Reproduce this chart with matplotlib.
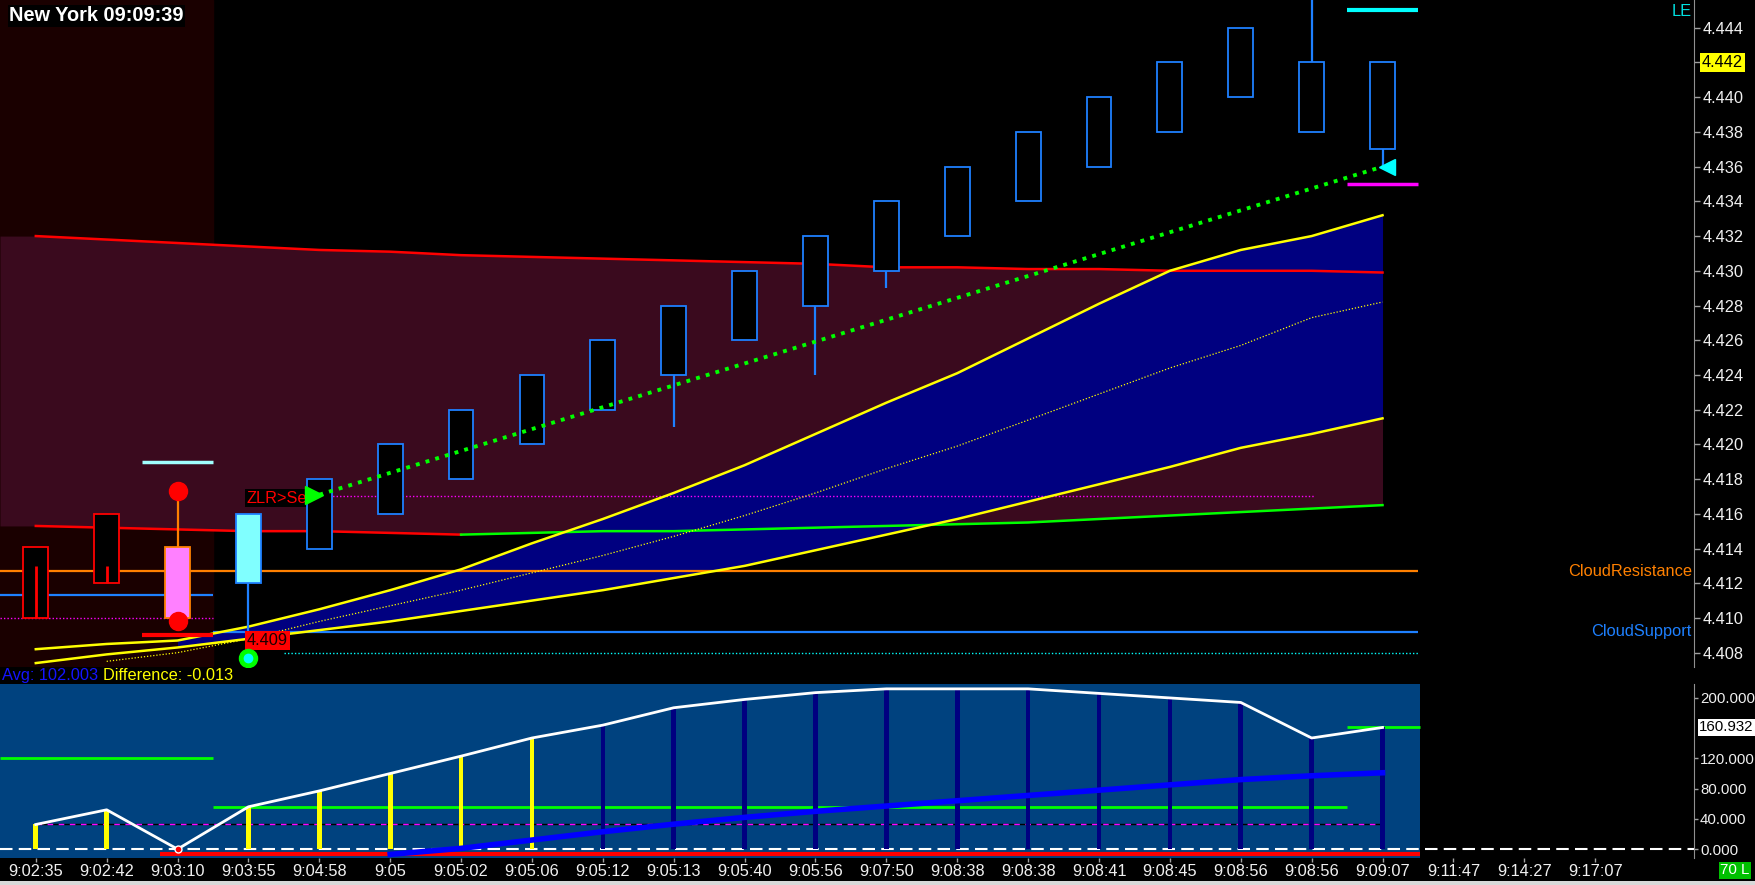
import matplotlib
matplotlib.use('Agg')
import matplotlib.pyplot as plt
import matplotlib.transforms as mtransforms
from matplotlib import font_manager as fm
from matplotlib.patches import Rectangle

try:
    fm.findfont('Liberation Sans Narrow', fallback_to_default=False)
    FONT, FS = 'Liberation Sans Narrow', 13.5
except ValueError:
    FONT, FS = 'Liberation Sans', 11.8
plt.rcParams['font.family'] = [FONT, 'DejaVu Sans']

# ---- data ----
time_labels = ['9:02:35', '9:02:42', '9:03:10', '9:03:55', '9:04:58', '9:05', '9:05:02',
               '9:05:06', '9:05:12', '9:05:13', '9:05:40', '9:05:56', '9:07:50', '9:08:38',
               '9:08:38', '9:08:41', '9:08:45', '9:08:56', '9:08:56', '9:09:07', '9:11:47',
               '9:14:27', '9:17:07']
bars = list(range(20))

body_top = [4.4141, 4.4160, 4.4141, 4.4160, 4.4180, 4.4200, 4.4220, 4.4240, 4.4260, 4.4280,
            4.4300, 4.4320, 4.4340, 4.4360, 4.4380, 4.4400, 4.4420, 4.4440, 4.4420, 4.4420]
body_bot = [4.4100, 4.4120, 4.4100, 4.4120, 4.4140, 4.4160, 4.4180, 4.4200, 4.4220, 4.4240,
            4.4260, 4.4280, 4.4300, 4.4320, 4.4340, 4.4360, 4.4380, 4.4400, 4.4380, 4.4370]
highs = [4.4141, 4.4160, 4.4173, 4.4160, 4.4180, 4.4200, 4.4220, 4.4240, 4.4260, 4.4280,
         4.4300, 4.4320, 4.4340, 4.4360, 4.4380, 4.4400, 4.4420, 4.4440, 4.4470, 4.4420]
lows = [4.4100, 4.4120, 4.4100, 4.4080, 4.4140, 4.4160, 4.4180, 4.4200, 4.4220, 4.4210,
        4.4260, 4.4240, 4.4290, 4.4320, 4.4340, 4.4360, 4.4380, 4.4400, 4.4380, 4.4360]
inner_tick = [4.4130, 4.4130]   # red marks inside the first two bodies

band_top = [4.4320, 4.4318, 4.4316, 4.4314, 4.4312, 4.4311, 4.4309, 4.4308, 4.4307, 4.4306,
            4.4305, 4.4304, 4.4302, 4.4302, 4.4301, 4.4301, 4.4300, 4.4300, 4.4300, 4.4299]
band_low_red = [4.4153, 4.4152, 4.4151, 4.4150, 4.4150, 4.4149, 4.4148]          # bars 0-6
band_low_green = [4.4148, 4.4149, 4.4150, 4.4150, 4.4151, 4.4152, 4.4153, 4.4154,
                  4.4155, 4.4157, 4.4159, 4.4161, 4.4163, 4.4165]                # bars 6-19

ma_fast = [4.4082, 4.4085, 4.4087, 4.4095, 4.4105, 4.4116, 4.4128, 4.4143, 4.4157, 4.4172,
           4.4188, 4.4206, 4.4224, 4.4241, 4.4261, 4.4281, 4.4300, 4.4312, 4.4320, 4.4332]
ma_slow = [4.4074, 4.4079, 4.4083, 4.4088, 4.4093, 4.4098, 4.4104, 4.4110, 4.4116, 4.4123,
           4.4130, 4.4139, 4.4148, 4.4157, 4.4167, 4.4177, 4.4187, 4.4198, 4.4206, 4.4215]
ma_mid = [4.4075, 4.4080, 4.4088, 4.4098, 4.4107, 4.4116, 4.4126, 4.4136, 4.4147, 4.4159,
          4.4172, 4.4186, 4.4199, 4.4214, 4.4229, 4.4244, 4.4257, 4.4273, 4.4282]  # bars 1-19

trend_x = [4, 19]
trend_y = [4.4171, 4.4360]

cloud_resistance = 4.4127
cloud_support = 4.4092
price_ticks = [4.408, 4.410, 4.412, 4.414, 4.416, 4.418, 4.420, 4.422, 4.424, 4.426,
               4.428, 4.430, 4.432, 4.434, 4.436, 4.438, 4.440, 4.442, 4.444]
last_price = 4.442

hist_vals = [32.6, 52, 0, 56, 77, 100, 123, 147, 164, 187, 198, 207, 212, 212, 212, 206,
             200, 194, 147, 160.932]
hist_avg = [-7, 1, 12, 23, 33, 42, 50, 57, 64, 71, 78, 85, 92, 97, 101]           # bars 5-19
osc_ticks = [0, 40, 80, 120, 200]
osc_last = 160.932

# ---- layout ----
W, H = 1568.0, 790.0
fig = plt.figure(figsize=(17.56, 8.85), dpi=100, facecolor='black')
ax = fig.add_axes([0, 1 - 595 / H, 1513 / W, 595 / H], facecolor='black')
ax2 = fig.add_axes([0, 1 - 766 / H, 1513 / W, 155 / H], facecolor='black')

XL = (-0.505, 23.4)
BLUE = '#1e80ff'
FS2 = FS * 0.92   # oscillator axis labels sit tight against the right edge

# ---- price panel ----
ax.set_xlim(XL)
ax.set_ylim(4.4072, 4.4456)
ax.axvspan(XL[0], 2.5, color='#1a0000', zorder=0)

bx = [XL[0]] + bars
ax.fill_between(bx, [band_top[0]] + band_top,
                [band_low_red[0]] + band_low_red[:6] + band_low_green,
                color='#3a0a1e', lw=0, zorder=1)
ax.fill_between(bars[2:], ma_fast[2:], ma_slow[2:], color='#000080', lw=0, zorder=2)

ax.plot(bars, band_top, color='#ff0000', lw=1.8, zorder=3)
ax.plot(bars[:7], band_low_red, color='#ff0000', lw=1.8, zorder=3)
ax.plot(bars[6:], band_low_green, color='#00ff00', lw=1.8, zorder=3)
ax.plot(bars, ma_fast, color='#ffff00', lw=1.8, zorder=4)
ax.plot(bars, ma_slow, color='#ffff00', lw=1.8, zorder=4)
ax.plot(bars[1:], ma_mid, color='#ffff00', lw=0.9, ls=(0, (1, 1.5)), zorder=4)

# horizontal levels
ax.hlines(cloud_resistance, XL[0], 19.5, color='#ff8000', lw=1.6, zorder=3)
ax.hlines(4.4113, XL[0], 2.5, color=BLUE, lw=1.6, zorder=3)
ax.hlines(cloud_support, 2.5, 19.5, color=BLUE, lw=1.6, zorder=3)
ax.hlines(4.4100, XL[0], 2.5, color='#ff00ff', lw=1, ls=(0, (1, 1.5)), zorder=3)
ax.hlines(4.4170, 3.5, 18.05, color='#ff00ff', lw=1, ls=(0, (1, 1.5)), zorder=3)
ax.hlines(4.4080, 3.5, 19.5, color='#00ffff', lw=1, ls=(0, (1, 1.5)), zorder=3)
ax.hlines(4.4190, 1.5, 2.5, color='#a0ffff', lw=2.5, zorder=5)
ax.hlines(4.4090, 1.5, 2.5, color='#ff0000', lw=3, zorder=5)
ax.hlines(4.4450, 18.5, 19.5, color='#00ffff', lw=3, zorder=5)
ax.hlines(4.4350, 18.5, 19.5, color='#ff00ff', lw=2.5, zorder=5)

# candles
faces = ['black', 'black', '#ff80ff', '#80ffff'] + ['black'] * 16
edges = ['#ff0000', '#ff0000', '#ff8000', BLUE] + [BLUE] * 16
bw = 0.35
for i in bars:
    wc = '#ff8000' if i == 2 else edges[i]
    if highs[i] > body_top[i]:
        ax.vlines(i, body_top[i], highs[i], color=wc, lw=1.6, zorder=6)
    if lows[i] < body_bot[i]:
        ax.vlines(i, lows[i], body_bot[i], color=wc, lw=1.6, zorder=6)
    ax.add_patch(Rectangle((i - bw / 2, body_bot[i]), bw, body_top[i] - body_bot[i],
                           facecolor=faces[i], edgecolor=edges[i], lw=1.3, zorder=7))
for i, v in enumerate(inner_tick):
    ax.vlines(i, body_bot[i], v, color='#ff0000', lw=2, zorder=8)

# signals
ax.plot(2, highs[2], 'o', color='#ff0000', ms=13, zorder=9)
ax.plot(2, 4.4098, 'o', color='#ff0000', ms=13, zorder=9)
ax.plot(3, 4.4077, 'o', color='#00ff00', ms=13, zorder=9)
ax.plot(3, 4.4077, 'o', color='#00ffff', ms=6, zorder=10)
ax.plot(trend_x, trend_y, color='#00ff00', lw=2.8, ls=(0, (1, 1.6)), zorder=8)
ax.plot(3.93, trend_y[0], '>', color='#00ff00', ms=13, zorder=9)
ax.plot(19.06, trend_y[1], '<', color='#00ffff', ms=12, zorder=9)

ax.text(2.97, 4.4169, 'ZLR>Sell', color='#ff0000', fontsize=FS, va='center', ha='left',
        zorder=4, bbox=dict(facecolor='black', edgecolor='none', pad=1))
ax.text(3.27, 4.4087, '4.409', color='#1a0000', fontsize=FS, va='center', ha='center',
        zorder=8, bbox=dict(facecolor='#ff0000', edgecolor='none', pad=1.2))

trans = mtransforms.blended_transform_factory(ax.transAxes, ax.transData)
ax.text(0.9985, cloud_resistance, 'CloudResistance', transform=trans, color='#ff8000',
        fontsize=FS, ha='right', va='center')
ax.text(0.9985, cloud_support, 'CloudSupport', transform=trans, color=BLUE,
        fontsize=FS, ha='right', va='center')
ax.text(0.9985, 0.982, 'LE', transform=ax.transAxes, color='#00e0e0', fontsize=FS,
        ha='right', va='center')

ax.yaxis.tick_right()
ax.set_yticks(price_ticks, ['' if abs(t - last_price) < 1e-9 else f'{t:.3f}' for t in price_ticks])
ax.tick_params(axis='y', colors='#a0a0a0', labelcolor='#f0f0f0', labelsize=FS, length=4,
               width=1, pad=2)
ax.set_xticks([])
ax.annotate(f'{last_price:.3f}', xy=(1, last_price), xycoords=trans, xytext=(5.5, 0),
            textcoords='offset points', ha='left', va='center', fontsize=FS, color='black',
            bbox=dict(facecolor='#ffff00', edgecolor='none', pad=1.5), annotation_clip=False)
for side in ['top', 'left', 'bottom']:
    ax.spines[side].set_visible(False)
ax.spines['right'].set_color('#909090')

# ---- oscillator panel ----
ax2.set_xlim(XL)
ax2.set_ylim(-11.9, 217.8)
ax2.axvspan(XL[0], 19.53, color='#00427f', lw=0, zorder=0)
ax2.hlines(osc_ticks[0], XL[0], XL[1], color='white', lw=1.5, ls=(0, (6, 3)), zorder=2)
ax2.hlines(hist_vals[0], 0, 19, color='black', lw=1, zorder=2)
ax2.hlines(hist_vals[0], 0, 19, color='#ff00ff', lw=1, ls=(0, (4, 4)), zorder=2)
ax2.hlines(-7, 1.75, 19.53, color='#ff0000', lw=3, zorder=2)
ax2.hlines(120, XL[0], 2.5, color='#00ff00', lw=2, zorder=3)
ax2.hlines(56, 2.5, 18.5, color='#00ff00', lw=2, zorder=3)
ax2.hlines(osc_last, 18.5, 19.53, color='#00ff00', lw=2, zorder=3)

hist_colors = ['#ffff00'] * 8 + ['#000080'] * 12
ax2.bar(bars, hist_vals, width=0.065, color=hist_colors, zorder=3)
ax2.plot(bars[5:], hist_avg, color='#0000ff', lw=4, zorder=4)
ax2.plot(bars, hist_vals, color='white', lw=2, zorder=5)
ax2.plot(2, 0, 'o', color='#ff0000', mec='white', ms=5, zorder=6)

ax2.yaxis.tick_right()
ax2.set_yticks(osc_ticks, [f'{t:.3f}' for t in osc_ticks])
ax2.tick_params(axis='y', colors='#a0a0a0', labelcolor='#f0f0f0', labelsize=FS2, length=3,
                width=1, pad=1)
ax2.set_xticks(range(len(time_labels)), time_labels)
ax2.tick_params(axis='x', colors='#a0a0a0', labelcolor='#f0f0f0', labelsize=FS, length=3,
                width=1, pad=1.5)
trans2 = mtransforms.blended_transform_factory(ax2.transAxes, ax2.transData)
ax2.annotate(f'{osc_last:.3f}', xy=(1, osc_last), xycoords=trans2, xytext=(3.5, 0),
             textcoords='offset points', ha='left', va='center', fontsize=FS2, color='black',
             bbox=dict(facecolor='white', edgecolor='none', pad=1), annotation_clip=False)
for side in ['top', 'left', 'bottom']:
    ax2.spines[side].set_visible(False)
ax2.spines['right'].set_color('#909090')

# ---- header / footer text ----
fig.text(8 / W, 1 - 14 / H, 'New York 09:09:39', color='white', fontsize=FS + 2.6,
         fontweight='bold', va='center', ha='left',
         bbox=dict(facecolor='black', edgecolor='none', pad=1))
fig.text(2 / W, 1 - 603 / H, 'Avg: 102.003', color='#1414ff', fontsize=FS, va='center')
fig.text(92 / W, 1 - 603 / H, 'Difference: -0.013', color='#ffff00', fontsize=FS, va='center')
fig.text(1536 / W, 1 - 777 / H, '70 L', color='white', fontsize=FS2, va='center', ha='left',
         bbox=dict(facecolor='#00c000', edgecolor='none', pad=1))
fig.patches.append(Rectangle((0, 0), 1, 4 / H, transform=fig.transFigure,
                             facecolor='#d8d8d8', edgecolor='none'))

fig.savefig('out.png', dpi=100, facecolor='black')
